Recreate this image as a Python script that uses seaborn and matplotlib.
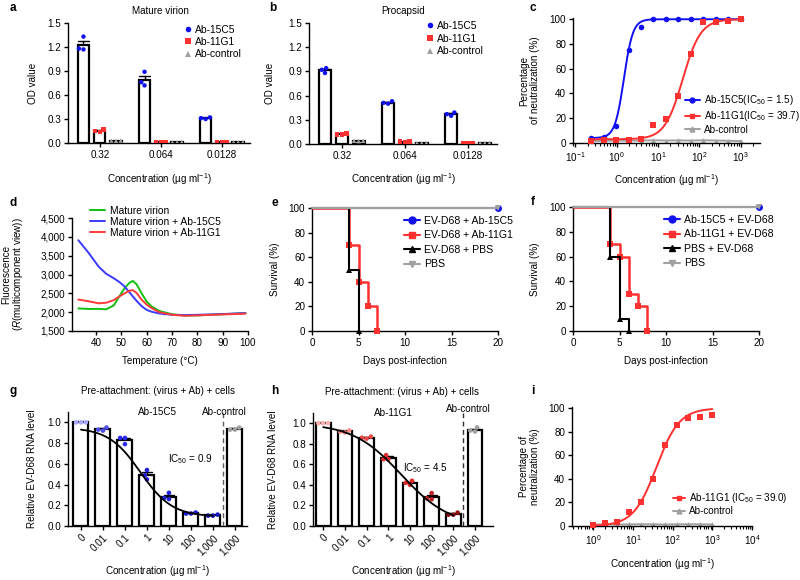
import numpy as np
import pandas as pd
import matplotlib
matplotlib.use("Agg")
import matplotlib.pyplot as plt
import seaborn as sns
from matplotlib.lines import Line2D

sns.set_style("ticks")
plt.rcParams['font.family'] = ['Liberation Sans', 'DejaVu Sans']
FS = 7.1
plt.rcParams.update({
    'font.size': FS, 'axes.labelsize': FS, 'xtick.labelsize': FS, 'ytick.labelsize': FS,
    'legend.fontsize': FS, 'axes.linewidth': 1.0, 'axes.edgecolor': 'black',
    'xtick.color': 'black', 'ytick.color': 'black', 'text.color': 'black', 'axes.labelcolor': 'black',
    'xtick.major.size': 3, 'ytick.major.size': 3, 'xtick.major.width': 1.0, 'ytick.major.width': 1.0,
    'xtick.minor.size': 2, 'xtick.minor.width': 0.8, 'xtick.major.pad': 2, 'ytick.major.pad': 2,
    'mathtext.fontset': 'custom', 'mathtext.rm': 'Liberation Sans',
    'mathtext.it': 'Liberation Sans:italic', 'mathtext.bf': 'Liberation Sans:bold',
})

BLUE = "#1010f0"
RED = "#ff3030"
GREY = "#a0a0a0"
GREEN = "#10c010"
CONC_LABEL = "Concentration (µg ml$^{-1}$)"

# ---------------- data ----------------
# a / b : ELISA
conc_ab = ["0.32", "0.064", "0.0128"]
antibodies = ["Ab-15C5", "Ab-11G1", "Ab-control"]
a_15c5 = [[1.33, 1.18, 1.17], [0.89, 0.72, 0.76], [0.32, 0.30, 0.31]]
a_11g1 = [[0.17, 0.14, 0.15], [0.015, 0.01, 0.012], [0.01, 0.015, 0.012]]
a_ctrl = [[0.03, 0.03, 0.028], [0.01, 0.01, 0.012], [0.01, 0.01, 0.01]]
b_15c5 = [[0.94, 0.88, 0.92], [0.53, 0.50, 0.51], [0.39, 0.35, 0.37]]
b_11g1 = [[0.13, 0.12, 0.12], [0.03, 0.025, 0.03], [0.015, 0.01, 0.015]]
b_ctrl = [[0.04, 0.035, 0.04], [0.012, 0.01, 0.012], [0.012, 0.01, 0.012]]

# c : neutralization
c_conc = [0.244, 0.488, 0.977, 1.95, 3.9, 7.8, 15.6, 31.25, 62.5, 125, 250, 500, 1000]
c_15c5 = [4, 5, 14, 75, 94, 100, 100, 100, 100, 100, 100, 100, 100]
c_11g1 = [2, 2.4, 2.7, 2.7, 3.2, 14.7, 19.5, 38, 72, 98, 98, 98.7, 100]
c_ctrl = [1.6, 1.8, 2.0, 1.8, 2.0, 2.2, 2.0, 2.1, 2.0, 2.2, 2.0, 1.8, 1.6]
c_fit_15c5 = [4, 100, 1.5, 4.0]     # bottom, top, IC50, hill
c_fit_11g1 = [3, 100, 39.7, 2.0]

# d : thermal shift
d_temp = [33, 37, 41, 44, 47, 49, 51, 53, 54.5, 56, 58, 60, 62, 65, 70, 75, 80, 90, 99]
d_virion = [2100, 2085, 2088, 2075, 2180, 2400, 2610, 2770, 2830, 2740, 2500, 2280, 2150, 2030,
            1945, 1910, 1915, 1945, 1975]
d_15c5 = [3910, 3580, 3210, 3020, 2900, 2810, 2700, 2540, 2420, 2300, 2160, 2060, 2010, 1965,
          1930, 1922, 1930, 1950, 1975]
d_11g1 = [2335, 2290, 2235, 2250, 2320, 2410, 2490, 2565, 2585, 2510, 2330, 2200, 2105, 2000,
          1930, 1905, 1915, 1940, 1960]
d_yticks = [1500, 2000, 2500, 3000, 3500, 4000, 4500]
d_yticklabels = ["1,500", "2,000", "2,500", "3,000", "3,500", "4,000", "4,500"]

# e : survival
e_labels = ["EV-D68 + Ab-15C5", "EV-D68 + Ab-11G1", "EV-D68 + PBS", "PBS"]
e_days_15c5, e_surv_15c5 = [0, 20], [100, 100]
e_days_11g1, e_surv_11g1 = [0, 4, 5, 6, 7], [100, 70, 40, 20, 0]
e_days_pbsv, e_surv_pbsv = [0, 4, 5], [100, 50, 0]
e_days_pbs, e_surv_pbs = [0, 20], [100, 100]

# f : survival
f_labels = ["Ab-15C5 + EV-D68", "Ab-11G1 + EV-D68", "PBS + EV-D68", "PBS"]
f_days_15c5, f_surv_15c5 = [0, 20], [100, 100]
f_days_11g1, f_surv_11g1 = [0, 4, 5, 6, 7, 8], [100, 70, 60, 30, 20, 0]
f_days_pbsv, f_surv_pbsv = [0, 4, 5, 6], [100, 60, 10, 0]
f_days_pbs, f_surv_pbs = [0, 20], [100, 100]

# g / h : pre-attachment RNA level
gh_cats = ["0", "0.01", "0.1", "1", "10", "100", "1000", "control"]
gh_ticklabels = ["0", "0.01", "0.1", "1", "10", "100", "1,000", "1,000"]
g_reps = [[1.0, 1.0, 1.0], [0.95, 0.93, 0.92], [0.85, 0.79, 0.85], [0.54, 0.45, 0.49],
          [0.32, 0.27, 0.26], [0.13, 0.12, 0.12], [0.11, 0.10, 0.10], [0.93, 0.95, 0.93]]
h_reps = [[1.0, 1.0, 1.0], [0.93, 0.92, 0.91], [0.87, 0.85, 0.86], [0.69, 0.65, 0.65],
          [0.44, 0.40, 0.42], [0.32, 0.26, 0.27], [0.13, 0.11, 0.11], [0.93, 0.92, 0.96]]
g_fit = [0.09, 0.95, 2.7, 0.6]   # bottom, top, midpoint (category units), slope
h_fit = [0.0, 1.0, 3.6, 0.39]
g_pt_colors = ["#a8a8ff", "#5050f0", "#2a2af0", "#2020e0", "#2020d8", "#1a1ad0", "#1515c0", "#a0a0a0"]
h_pt_colors = ["#ffb0b0", "#ff8a8a", "#f04848", "#e03030", "#e02a2a", "#c02020", "#901010", "#a0a0a0"]

# i : neutralization
i_conc = [1, 2, 3.9, 7.8, 15.6, 31.25, 62.5, 125, 250, 500, 1000]
i_11g1 = [0.6, 2.5, 3, 11.5, 20, 40, 69, 86, 92, 92.4, 94]
i_ctrl = [1.2, 1.4, 1.3, 1.4, 1.5, 1.4, 1.3, 1.4, 1.5, 1.4, 1.3]
i_fit_11g1 = [0, 100, 39.0, 1.5]

# ---------------- layout ----------------
W, H = 800, 580
fig = plt.figure(figsize=(8, 5.8), dpi=100)


def add_ax(box):
    l, t, r, b = box
    return fig.add_axes([l / W, 1 - b / H, (r - l) / W, (b - t) / H])


def labels(ax, box, xlabel, ylabel, xl_top, yl_right, ls=1.15):
    l, t, r, b = box
    ax.set_xlabel(xlabel)
    ax.xaxis.set_label_coords(0.5, (b - xl_top) / (b - t))
    ax.set_ylabel(ylabel, linespacing=ls)
    ax.yaxis.set_label_coords((yl_right - l) / (r - l), 0.5)


def legend(ax, box, handles, texts, px, py, **kw):
    l, t, r, b = box
    opts = dict(loc='upper left', bbox_to_anchor=((px - l) / (r - l), (b - py) / (b - t)),
                borderaxespad=0, borderpad=0, frameon=False, handletextpad=0.4,
                handlelength=1.5, labelspacing=0.3)
    opts.update(kw)
    ax.legend(handles, texts, **opts)


def ftext(px, py, s, **kw):
    fig.text(px / W, 1 - py / H, s, **kw)


def sig4(x, p):
    bottom, top, ic50, hill = p
    return bottom + (top - bottom) / (1 + (ic50 / x) ** hill)


def bar_panel(ax, reps_list, colors, markers):
    rows = []
    for ab, reps in zip(antibodies, reps_list):
        for conc, vals in zip(conc_ab, reps):
            for v in vals:
                rows.append((conc, ab, v))
    df = pd.DataFrame(rows, columns=['conc', 'ab', 'od'])
    sns.barplot(data=df, x='conc', y='od', hue='ab', order=conc_ab, hue_order=antibodies,
                palette=['white'] * 3, saturation=1, edgecolor='black', linewidth=1.6,
                errorbar='se', capsize=0.5, err_kws={'color': 'black', 'linewidth': 1.0},
                width=0.8, gap=0.3, legend=False, ax=ax)
    for p in ax.patches:
        p.set_zorder(3)
    for ln in ax.lines:
        ln.set_zorder(2)
    for ab, col, mk in zip(antibodies, colors, markers):
        sns.swarmplot(data=df[df.ab == ab], x='conc', y='od', hue='ab', order=conc_ab,
                      hue_order=antibodies, palette=colors, dodge=True, marker=mk, size=3.2,
                      linewidth=0, legend=False, ax=ax, zorder=4, warn_thresh=1)
    ax.set_xlim(-0.52, 2.46)
    ax.set_ylim(0, 1.5)
    ax.set_yticks([0, 0.3, 0.6, 0.9, 1.2, 1.5])
    ax.set_yticklabels(["0.0", "0.3", "0.6", "0.9", "1.2", "1.5"])
    sns.despine(ax=ax)


mk_colors = [BLUE, RED, GREY]
mk_shapes = ['o', 's', '^']

# ---- a ----
box_a = (68, 23, 250, 143)
ax = add_ax(box_a)
bar_panel(ax, [a_15c5, a_11g1, a_ctrl], mk_colors, mk_shapes)
labels(ax, box_a, CONC_LABEL, "OD value", 171, 38)
h_ab = [Line2D([], [], ls='none', marker=m, color=c, markersize=4, markeredgewidth=0)
        for m, c in zip(mk_shapes, mk_colors)]
legend(ax, box_a, h_ab, antibodies, 185, 25, handlelength=0.6, labelspacing=0.2,
       prop={'size': 7.4})
ftext(160, 11, "Mature virion", ha='center', va='center')

# ---- b ----
box_b = (309, 23, 497, 144)
ax = add_ax(box_b)
bar_panel(ax, [b_15c5, b_11g1, b_ctrl], mk_colors, mk_shapes)
labels(ax, box_b, CONC_LABEL, "OD value", 171, 275)
legend(ax, box_b, h_ab, antibodies, 427, 21, handlelength=0.6, labelspacing=0.25,
       prop={'size': 7.4})
ftext(403, 11, "Procapsid", ha='center', va='center')


def neut_panel(ax, conc, series, fits, colors, markers, ctrl):
    ax.set_xscale('log')
    xs = np.logspace(np.log10(conc[0]), np.log10(conc[-1]), 300)
    for ys, fp, col, mk in zip(series, fits, colors, markers):
        sns.lineplot(x=xs, y=sig4(xs, fp), color=col, linewidth=1.4, ax=ax, zorder=3)
        sns.scatterplot(x=conc, y=ys, color=col, marker=mk, s=16, linewidth=0, ax=ax,
                        zorder=4, clip_on=False)
    sns.lineplot(x=conc, y=ctrl, color=GREY, linewidth=1.4, marker='^', markersize=3.5,
                 markeredgewidth=0, markeredgecolor=GREY, ax=ax, zorder=2, clip_on=False)
    ax.set_ylim(0, 101)
    ax.set_yticks([0, 20, 40, 60, 80, 100])
    sns.despine(ax=ax)


# ---- c ----
box_c = (573, 18, 760, 143)
ax = add_ax(box_c)
neut_panel(ax, c_conc, [c_15c5, c_11g1], [c_fit_15c5, c_fit_11g1], [BLUE, RED], ['o', 's'], c_ctrl)
ax.set_xlim(0.088, 2950)
ax.set_xticks([0.1, 1, 10, 100, 1000])
labels(ax, box_c, CONC_LABEL, "Percentage\nof neutralization (%)", 172, 540)
h_c = [Line2D([], [], color=BLUE, marker='o', markersize=3.5, lw=1.4),
       Line2D([], [], color=RED, marker='s', markersize=3.5, lw=1.4),
       Line2D([], [], color=GREY, marker='^', markersize=3.5, lw=1.4)]
legend(ax, box_c, h_c, ["Ab-15C5(IC$_{50}$ = 1.5)", "Ab-11G1(IC$_{50}$ = 39.7)", "Ab-control"],
       685, 93, labelspacing=0.2)

# ---- d ----
box_d = (72, 218, 248, 331)
ax = add_ax(box_d)
for ys, col in zip([d_virion, d_15c5, d_11g1], [GREEN, "#3a3aff", "#ff3a3a"]):
    sns.lineplot(x=d_temp, y=ys, color=col, linewidth=1.4, ax=ax)
ax.set_xlim(30.5, 100)
ax.set_ylim(1500, 4500)
ax.set_xticks([40, 50, 60, 70, 80, 90, 100])
ax.set_yticks(d_yticks)
ax.set_yticklabels(d_yticklabels)
sns.despine(ax=ax)
labels(ax, box_d, "Temperature (°C)", "Fluorescence\n($R$(multicomponent view))", 356, 25, ls=1.0)
h_d = [Line2D([], [], color=c, lw=1.4) for c in [GREEN, "#3a3aff", "#ff3a3a"]]
legend(ax, box_d, h_d, ["Mature virion", "Mature virion + Ab-15C5", "Mature virion + Ab-11G1"],
       90, 206, labelspacing=0.1, prop={'size': 7.4})


def surv_panel(ax, series):
    pal = {0: (BLUE, 'o'), 1: (RED, 's'), 2: ("black", '^'), 3: (GREY, 'v')}
    for k in [3, 0, 2, 1]:
        days, surv = series[k]
        col, mk = pal[k]
        sns.lineplot(x=days, y=surv, color=col, linewidth=1.8 if k == 1 else 1.5,
                     drawstyle='steps-post', marker=mk, markersize=5,
                     markeredgecolor=col, markeredgewidth=0, markevery=slice(1, None),
                     ax=ax, clip_on=False, zorder=3 + k)
    ax.set_xlim(0, 20)
    ax.set_ylim(0, 100)
    ax.set_xticks([0, 5, 10, 15, 20])
    ax.set_yticks([0, 20, 40, 60, 80, 100])
    sns.despine(ax=ax)
    hs = [Line2D([], [], color=pal[k][0], marker=pal[k][1], markersize=5, lw=1.5) for k in range(4)]
    return hs


# ---- e ----
box_e = (312, 208, 498, 331)
ax = add_ax(box_e)
hs = surv_panel(ax, [(e_days_15c5, e_surv_15c5), (e_days_11g1, e_surv_11g1),
                     (e_days_pbsv, e_surv_pbsv), (e_days_pbs, e_surv_pbs)])
labels(ax, box_e, "Days post-infection", "Survival (%)", 356, 280)
legend(ax, box_e, hs, e_labels, 404, 216, labelspacing=0.42, prop={'size': 7.6})

# ---- f ----
box_f = (573, 207, 759, 331)
ax = add_ax(box_f)
hs = surv_panel(ax, [(f_days_15c5, f_surv_15c5), (f_days_11g1, f_surv_11g1),
                     (f_days_pbsv, f_surv_pbsv), (f_days_pbs, f_surv_pbs)])
labels(ax, box_f, "Days post-infection", "Survival (%)", 356, 540)
legend(ax, box_f, hs, f_labels, 664, 215, labelspacing=0.42, prop={'size': 7.6})


def rna_panel(ax, reps, fit, pt_colors, xlim, dash_color):
    rows = [(c, v) for c, vals in zip(gh_cats, reps) for v in vals]
    df = pd.DataFrame(rows, columns=['cat', 'val'])
    sns.barplot(data=df, x='cat', y='val', order=gh_cats, color='white', saturation=1,
                edgecolor='black', linewidth=1.6, errorbar='se', capsize=0.45,
                err_kws={'color': 'black', 'linewidth': 1.0}, width=0.68, ax=ax)
    for p in ax.patches:
        p.set_zorder(3)
    for ln in ax.lines:
        ln.set_zorder(2)
    sns.swarmplot(data=df, x='cat', y='val', hue='cat', order=gh_cats, hue_order=gh_cats,
                  palette=pt_colors, size=3.3, linewidth=0, legend=False, ax=ax, zorder=4,
                  warn_thresh=1)
    bottom, top, mid, slope = fit
    pos = np.linspace(0, 6, 200)
    sns.lineplot(x=pos, y=bottom + (top - bottom) / (1 + 10 ** (slope * (pos - mid))),
                 color='black', linewidth=1.3, ax=ax, zorder=5)
    ax.axvline(6.45, color=dash_color, ls=(0, (3.5, 2.5)), lw=1.0, zorder=1)
    ax.set_xlim(*xlim)
    ax.set_ylim(0, 1.1)
    ax.set_yticks([0, 0.2, 0.4, 0.6, 0.8, 1.0])
    ax.set_yticklabels(["0.0", "0.2", "0.4", "0.6", "0.8", "1.0"])
    ax.set_xticks(range(len(gh_cats)))
    ax.set_xticklabels(gh_ticklabels, rotation=45, ha='right', rotation_mode='anchor')
    sns.despine(ax=ax)


# ---- g ----
box_g = (68, 412, 247, 526)
ax = add_ax(box_g)
rna_panel(ax, g_reps, g_fit, g_pt_colors, (-0.59, 7.55), "#606060")
labels(ax, box_g, CONC_LABEL, "Relative EV-D68 RNA level", 563, 37)
ftext(158, 391, "Pre-attachment: (virus + Ab) + cells", ha='center', va='center')
ftext(157, 412, "Ab-15C5", ha='center', va='center')
ftext(224, 412, "Ab-control", ha='center', va='center')
ftext(190, 459, "IC$_{50}$ = 0.9", ha='center', va='center')

# ---- h ----
box_h = (313, 413, 493, 526)
ax = add_ax(box_h)
rna_panel(ax, h_reps, h_fit, h_pt_colors, (-0.47, 7.83), "#303030")
labels(ax, box_h, CONC_LABEL, "Relative EV-D68 RNA level", 563, 278)
ftext(402, 392, "Pre-attachment: (virus + Ab) + cells", ha='center', va='center')
ftext(393, 413, "Ab-11G1", ha='center', va='center')
ftext(468, 409, "Ab-control", ha='center', va='center')
ftext(425, 468, "IC$_{50}$ = 4.5", ha='center', va='center')

# ---- i ----
box_i = (572, 407, 752, 526)
ax = add_ax(box_i)
neut_panel(ax, i_conc, [i_11g1], [i_fit_11g1], [RED], ['s'], i_ctrl)
ax.set_xlim(0.29, 10000)
ax.set_xticks([1, 10, 100, 1000, 10000])
labels(ax, box_i, CONC_LABEL, "Percentage of\nneutralization (%)", 556, 540)
h_i = [Line2D([], [], color=RED, marker='s', markersize=3.5, lw=1.4),
       Line2D([], [], color=GREY, marker='^', markersize=3.5, lw=1.4)]
legend(ax, box_i, h_i, ["Ab-11G1 (IC$_{50}$ = 39.0)", "Ab-control"], 673, 491,
       handlelength=1.2, labelspacing=0.15)

# panel letters
for letter, (px, py) in zip("abcdefghi", [(13, 8), (273, 8), (533, 8), (13, 203), (275, 203),
                                          (533, 202), (13, 391), (275, 391), (533, 391)]):
    ftext(px, py, letter, ha='center', va='center', fontsize=8.5, fontweight='bold')

fig.savefig("out.png", dpi=100)
